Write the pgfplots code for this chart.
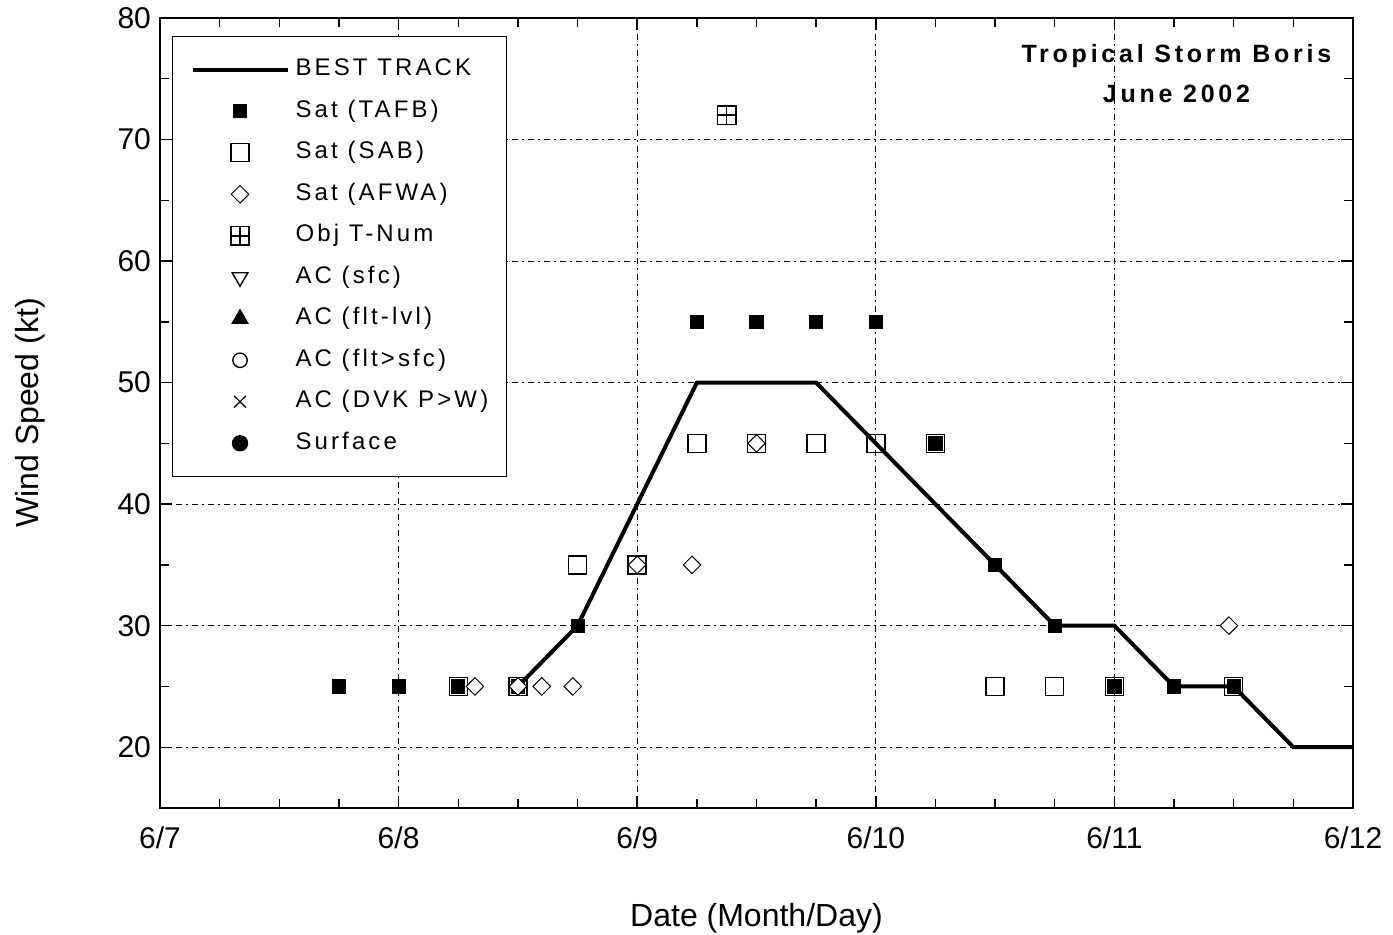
\documentclass[border=0pt]{standalone}
\usepackage{fontspec}
\setmainfont{Liberation Sans}
\newfontfamily\legfont[LetterSpace=13]{Liberation Sans}
\newfontfamily\titfont[LetterSpace=15]{Liberation Sans}
\usepackage{pgfplots}
\pgfplotsset{compat=1.18}
\pgfdeclareplotmark{boxplus}{%
  \pgfpathrectangle{\pgfqpoint{-\pgfplotmarksize}{-\pgfplotmarksize}}{\pgfqpoint{2\pgfplotmarksize}{2\pgfplotmarksize}}%
  \pgfpathmoveto{\pgfqpoint{-\pgfplotmarksize}{0pt}}\pgfpathlineto{\pgfqpoint{\pgfplotmarksize}{0pt}}%
  \pgfpathmoveto{\pgfqpoint{0pt}{-\pgfplotmarksize}}\pgfpathlineto{\pgfqpoint{0pt}{\pgfplotmarksize}}%
  \pgfusepathqstroke}
\begin{document}
\begin{tikzpicture}
\useasboundingbox (-80pt,-63.5pt) rectangle (616.5pt,404pt);
\begin{axis}[
  at={(0,0)}, anchor=south west,
  scale only axis, width=596.5pt, height=395pt,
  xmin=0, xmax=5, ymin=15, ymax=80,
  xtick={0,1,2,3,4,5},
  xticklabels={6/7,6/8,6/9,6/10,6/11,6/12},
  ytick={20,30,40,50,60,70,80},
  minor x tick num=3, minor y tick num=1,
  tick align=inside, tick pos=both,
  major tick length=6pt, minor tick length=4.5pt,
  every tick/.style={black, line width=0.7pt},
  axis line style={line width=1pt},
  grid=major,
  major grid style={black, line width=0.55pt, dash pattern=on 3pt off 2pt on 1pt off 2pt},
  /pgf/number format/assume math mode=true,
  ticklabel style={font=\fontsize{15}{18}\selectfont},
  xticklabel style={yshift=-6pt},
  yticklabel style={xshift=-1pt},
  xlabel={Date (Month/Day)},
  ylabel={Wind Speed (kt)},
  label style={font=\fontsize{16}{19}\selectfont},
  xlabel style={at={(axis description cs:0.5,-0.14)}, anchor=center},
  ylabel style={at={(axis description cs:-0.109,0.5)}, anchor=center, rotate=0},
  legend style={at={(rel axis cs:0.01,0.977)}, anchor=north west,
    fill=white, draw=black, line width=0.6pt,
    font=\legfont\fontsize{12}{13}\selectfont,
    legend cell align=left,
    inner xsep=9pt, inner ysep=10.5pt,
    row sep=8.75pt, column sep=3pt,
    nodes={inner sep=0pt, text height=9pt, text depth=3pt}},
  legend image code/.code={%
    \path[draw=none, fill=none] (0pt,-4pt) rectangle (47.5pt,4pt);
    \draw[mark repeat=2, mark phase=2, #1] plot coordinates {(0pt,0pt) (23.75pt,0pt) (47.5pt,0pt)};},
]
% Best track
\addplot[black, line width=2pt, mark=none] coordinates {
(1.5,25) (1.75,30) (2.0,40) (2.25,50) (2.5,50) (2.75,50) (3.0,45) (3.25,40)
(3.5,35) (3.75,30) (4.0,30) (4.25,25) (4.5,25) (4.75,20) (5.0,20)};
\addlegendentry{BEST TRACK}
% Sat (TAFB)
\addplot[only marks, mark=square*, mark size=3.3pt, mark options={fill=black, draw=black, line width=0.4pt}] coordinates {
(0.75,25) (1.0,25) (1.25,25) (1.5,25) (1.75,30) (2.25,55) (2.5,55) (2.75,55) (3.0,55)
(3.25,45) (3.5,35) (3.75,30) (4.0,25) (4.25,25) (4.5,25)};
\addlegendentry{Sat (TAFB)}
% Sat (SAB)
\addplot[only marks, mark=square, mark size=4.5pt, mark options={draw=black, line width=0.7pt}] coordinates {
(1.25,25) (1.5,25) (1.75,35) (2.0,35) (2.25,45) (2.5,45) (2.75,45) (3.0,45) (3.25,45)
(3.5,25) (3.75,25) (4.0,25) (4.5,25)};
\addlegendentry{Sat (SAB)}
% Sat (AFWA)
\addplot[only marks, mark=square*, mark size=3.1pt, mark options={rotate=45, fill=white, draw=black, line width=0.5pt}] coordinates {
(1.32,25) (1.5,25) (1.6,25) (1.73,25) (2.0,35) (2.23,35) (2.5,45) (4.48,30)};
\addlegendentry{Sat (AFWA)}
% Obj T-Num
\addplot[only marks, mark=boxplus, mark size=4.6pt, mark options={draw=black, line width=0.8pt}] coordinates {
(2.375,72)};
\addlegendentry{Obj T-Num}
\addlegendimage{only marks, mark=triangle, mark size=4.5pt, mark options={rotate=180, draw=black, line width=0.7pt}}
\addlegendentry{AC (sfc)}
\addlegendimage{only marks, mark=triangle*, mark size=4.5pt, mark options={fill=black, draw=black}}
\addlegendentry{AC (flt-lvl)}
\addlegendimage{only marks, mark=o, mark size=3.6pt, mark options={draw=black, line width=0.7pt}}
\addlegendentry{AC (flt>sfc)}
\addlegendimage{only marks, mark=x, mark size=4.2pt, mark options={draw=black, line width=0.6pt}}
\addlegendentry{AC (DVK P>W)}
\addlegendimage{only marks, mark=*, mark size=3.8pt, mark options={fill=black, draw=black}}
\addlegendentry{Surface}
\node[align=center, font=\titfont\bfseries\fontsize{12.5}{20}\selectfont, anchor=center]
  at (rel axis cs:0.852,0.93) {Tropical Storm Boris\\June 2002};
\end{axis}
\end{tikzpicture}
\end{document}
